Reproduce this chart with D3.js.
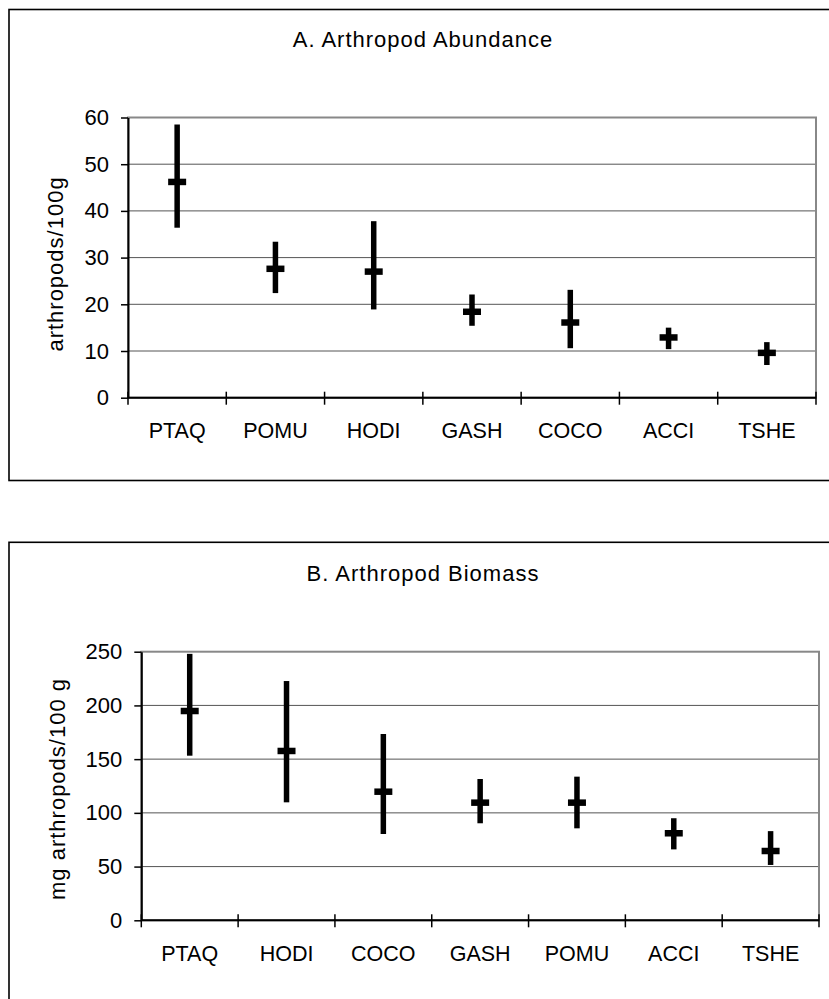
<!DOCTYPE html>
<html>
<head>
<meta charset="utf-8">
<script src="https://cdn.jsdelivr.net/npm/d3@7"></script>
<style>
  html, body { margin: 0; padding: 0; background: #fff; }
  svg { display: block; }
  text { font-family: "Liberation Sans", Arial, Helvetica, sans-serif; fill: #000; }
</style>
</head>
<body>
<script>
// Panel A: arthropod abundance (mean with range bars)
const catsA  = ["PTAQ", "POMU", "HODI", "GASH", "COCO", "ACCI", "TSHE"];
const meanA  = [46.2, 27.6, 27.0, 18.4, 16.1, 12.9, 9.6];
const upperA = [58.5, 33.4, 37.8, 22.1, 23.1, 15.0, 11.9];
const lowerA = [36.4, 22.4, 18.9, 15.4, 10.6, 10.4, 7.0];
const ticksA = [0, 10, 20, 30, 40, 50, 60];

// Panel B: arthropod biomass
const catsB  = ["PTAQ", "HODI", "COCO", "GASH", "POMU", "ACCI", "TSHE"];
const meanB  = [194.8, 157.6, 119.7, 109.5, 109.5, 81.0, 64.5];
const upperB = [248.0, 222.7, 173.4, 131.5, 133.7, 95.0, 83.0];
const lowerB = [153.2, 109.8, 80.3, 90.3, 85.6, 66.0, 51.5];
const ticksB = [0, 50, 100, 150, 200, 250];

const W = 829, H = 999;
const svg = d3.select("body").append("svg").attr("width", W).attr("height", H);

function panel(opt) {
  const g = svg.append("g");

  // outer frame
  g.append("rect")
    .attr("x", opt.box.x).attr("y", opt.box.y)
    .attr("width", opt.box.w).attr("height", opt.box.h)
    .attr("fill", "none").attr("stroke", "#000").attr("stroke-width", 1.6);

  const p = opt.plot;
  const x = d3.scaleBand().domain(opt.cats).range([p.left, p.right]).padding(0);
  const y = d3.scaleLinear().domain([0, d3.max(opt.ticks)]).range([p.bottom, p.top]);

  // title
  g.append("text")
    .attr("x", opt.titleX).attr("y", opt.titleY)
    .attr("text-anchor", "middle")
    .style("font-size", "22px").style("letter-spacing", "1px")
    .text(opt.title);

  // gridlines
  g.append("g").selectAll("line")
    .data(opt.ticks.filter(t => t > 0 && t < d3.max(opt.ticks)))
    .join("line")
    .attr("x1", p.left).attr("x2", p.right)
    .attr("y1", d => y(d)).attr("y2", d => y(d))
    .attr("stroke", "#555").attr("stroke-width", 1);

  // plot-area border (top / right in grey)
  g.append("rect")
    .attr("x", p.left).attr("y", p.top)
    .attr("width", p.right - p.left).attr("height", p.bottom - p.top)
    .attr("fill", "none").attr("stroke", "#888").attr("stroke-width", 2);

  // y axis
  const yAxis = d3.axisLeft(y).tickValues(opt.ticks).tickSize(7).tickPadding(12).tickSizeOuter(0);
  const ya = g.append("g").attr("transform", `translate(${p.left},0)`).call(yAxis);
  ya.select(".domain").attr("stroke", "#000").attr("stroke-width", 2);
  ya.selectAll(".tick line").attr("stroke", "#000").attr("stroke-width", 1.5);
  ya.selectAll(".tick text").style("font-size", "22px").attr("fill", "#000");

  // x axis: labels at band centres, ticks at band boundaries
  const xAxis = d3.axisBottom(x).tickSizeInner(0).tickSizeOuter(0).tickPadding(25);
  const xa = g.append("g").attr("transform", `translate(0,${p.bottom})`).call(xAxis);
  xa.select(".domain").remove();
  xa.selectAll(".tick text").style("font-size", "21.5px").attr("fill", "#000");

  g.append("line")
    .attr("x1", p.left).attr("x2", p.right)
    .attr("y1", p.bottom).attr("y2", p.bottom)
    .attr("stroke", "#000").attr("stroke-width", 2);
  const bounds = opt.cats.map(c => x(c)).concat([x.range()[1]]);
  g.append("g").selectAll("line")
    .data(bounds)
    .join("line")
    .attr("x1", d => d).attr("x2", d => d)
    .attr("y1", p.bottom - 6).attr("y2", p.bottom + 7)
    .attr("stroke", "#000").attr("stroke-width", 1.5);

  // y axis title
  g.append("text")
    .attr("transform", `translate(${opt.ylabX},${opt.ylabY}) rotate(-90)`)
    .attr("text-anchor", "middle")
    .style("font-size", "22px").style("letter-spacing", "1px")
    .text(opt.ylabel);

  // range bars and mean markers
  const rows = opt.cats.map((c, i) => ({ c, m: opt.mean[i], hi: opt.upper[i], lo: opt.lower[i] }));
  const cx = d => x(d.c) + x.bandwidth() / 2;
  g.append("g").selectAll("line")
    .data(rows)
    .join("line")
    .attr("x1", cx).attr("x2", cx)
    .attr("y1", d => y(d.hi)).attr("y2", d => y(d.lo))
    .attr("stroke", "#000").attr("stroke-width", 5.5);
  g.append("g").selectAll("line")
    .data(rows)
    .join("line")
    .attr("x1", d => cx(d) - 9).attr("x2", d => cx(d) + 9)
    .attr("y1", d => y(d.m)).attr("y2", d => y(d.m))
    .attr("stroke", "#000").attr("stroke-width", 6.5);
}

panel({
  cats: catsA, mean: meanA, upper: upperA, lower: lowerA, ticks: ticksA,
  title: "A. Arthropod Abundance", ylabel: "arthropods/100g",
  box: { x: 9, y: 9.5, w: 827, h: 471 },
  plot: { left: 128, right: 816, top: 117.5, bottom: 397.7 },
  titleX: 423, titleY: 47, ylabX: 63, ylabY: 264
});

panel({
  cats: catsB, mean: meanB, upper: upperB, lower: lowerB, ticks: ticksB,
  title: "B. Arthropod Biomass", ylabel: "mg arthropods/100 g",
  box: { x: 9, y: 542.3, w: 827, h: 471 },
  plot: { left: 141.3, right: 819, top: 651.7, bottom: 920.3 },
  titleX: 423, titleY: 580.7, ylabX: 65, ylabY: 789
});
</script>
</body>
</html>
